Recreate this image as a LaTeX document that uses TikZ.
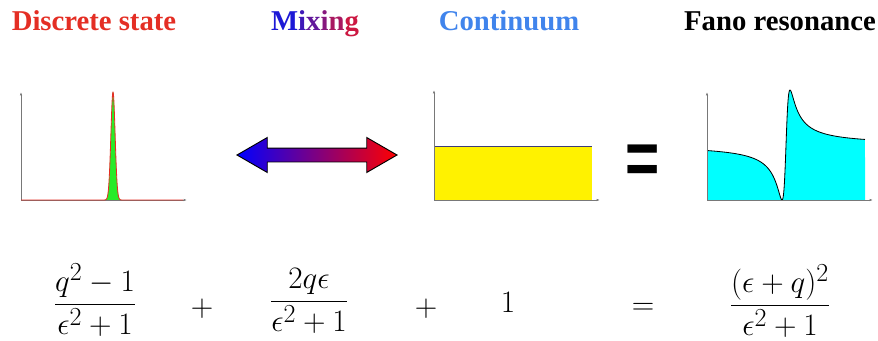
\documentclass[tikz,border=0pt]{standalone}
\usepackage{amsmath}
\usepackage{fontspec}
\usepackage{tikz}
\usepackage{xcolor}
\usetikzlibrary{arrows.meta,positioning,shapes.arrows}
\newfontfamily\headfont{Liberation Serif}
\newfontfamily\signfont{Liberation Sans}
\definecolor{StateRed}{RGB}{228,46,36}
\definecolor{MixBlue}{RGB}{28,24,214}
\definecolor{MixRed}{RGB}{204,24,66}
\definecolor{ContBlue}{RGB}{64,132,236}
\definecolor{PeakGreen}{RGB}{40,235,40}
\definecolor{FanoCyan}{RGB}{0,255,255}
\definecolor{LevelBlue}{RGB}{60,60,120}
\definecolor{AxisGray}{RGB}{120,120,120}
\newcommand{\bigmath}[1]{\scalebox{1.07}{$\displaystyle #1$}}

\begin{document}
\begin{tikzpicture}[x=0.03cm, y=-0.03cm, every node/.style={inner sep=0pt},
  head/.style={font=\headfont\bfseries\fontsize{24.5}{28}\selectfont, anchor=base},
  eq/.style={font=\fontsize{24.88}{30}\selectfont},
  axis/.style={draw=AxisGray, line width=0.6pt, -{Latex[length=1mm,width=0.7mm]}}]
\useasboundingbox (0,0) rectangle (878,341);

% headings
\node[head, text=StateRed] (state) at (94,31) {Discrete state};
\node[head] (mix) at (315,31) {\textcolor{MixBlue}{M}\textcolor{MixRed!20!MixBlue}{i}\textcolor{MixRed!40!MixBlue}{x}\textcolor{MixRed!60!MixBlue}{i}\textcolor{MixRed!80!MixBlue}{n}\textcolor{MixRed}{g}};
\node[head, text=ContBlue] (cont) at (509,31) {Continuum};
\node[head, text=black] (fano) at (780,31) {Fano resonance};

% discrete state
\fill[PeakGreen] plot[domain=104:122, samples=80] (\x,{200-108*exp(-((\x-113)/3)^2)});
\draw[axis] (21,200) -- (21,92);
\draw[axis] (21,200) -- (187,200);
\draw[StateRed, line width=0.7pt] (21,200) -- (104,200) -- plot[domain=104:122, samples=80] (\x,{200-108*exp(-((\x-113)/3)^2)}) -- (183,200);

% mixing
\node[double arrow, draw=black, line width=0.8pt, left color=blue, right color=red,
  minimum height=4.8cm, text height=0.39cm, text depth=0pt, text width=0pt,
  double arrow head extend=0.315cm, double arrow tip angle=60] (mixarrow) at (317,155) {};

% continuum
\fill[yellow] (434,146) rectangle (592,200);
\draw[LevelBlue, line width=0.8pt] (434,146) -- (592,146);
\draw[axis] (434,200) -- (434,90);
\draw[axis] (434,200) -- (600,200);

\node[font=\signfont\bfseries\fontsize{50}{50}\selectfont] (equal) at (643,165) {\scalebox{1}[1.3]{=}};

% fano profile
\fill[FanoCyan] (707,200) -- plot[domain=-19.75:19.75, samples=500] ({786+4*\x},{200-55*((\x+1)/(\x*\x+1)*(\x+1))}) -- (865,200) -- cycle;
\draw[line width=0.7pt] plot[domain=-19.75:19.75, samples=500] ({786+4*\x},{200-55*((\x+1)/(\x*\x+1)*(\x+1))});
\draw[axis] (707,200) -- (707,92);
\draw[axis] (707,200) -- (873,200);

% formulas
\node[eq] (term1) at (95,300) {\bigmath{\frac{q^2-1}{\epsilon^2+1}}};
\node[eq] (plusA) at (202,309) {\bigmath{+}};
\node[eq] (term2) at (309,301) {\bigmath{\frac{2q\epsilon}{\epsilon^2+1}}};
\node[eq] (plusB) at (426,309) {\bigmath{+}};
\node[eq] (term3) at (508,302) {\bigmath{1}};
\node[eq] (equals) at (643,309) {\bigmath{=}};
\node[eq] (total) at (780,301) {\bigmath{\frac{(\epsilon+q)^2}{\epsilon^2+1}}};
\end{tikzpicture}
\end{document}
